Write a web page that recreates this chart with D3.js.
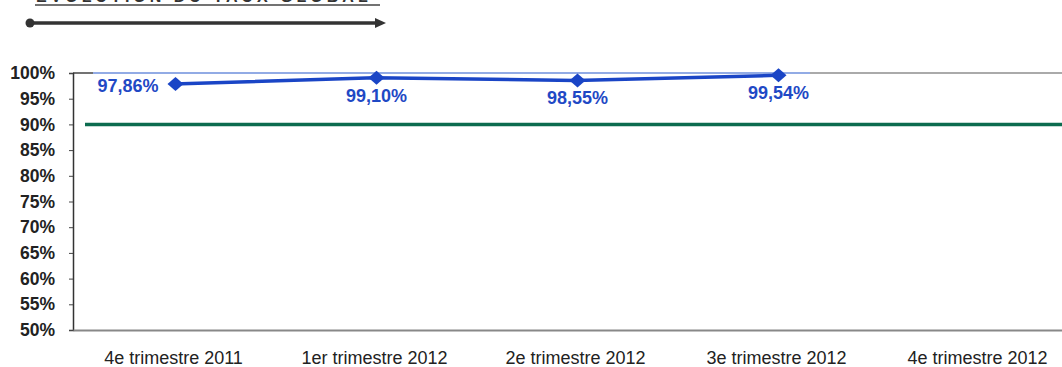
<!DOCTYPE html>
<html>
<head>
<meta charset="utf-8">
<script src="https://cdn.jsdelivr.net/npm/d3@7"></script>
<style>
  body { margin: 0; background: #fff; }
  svg { display: block; }
</style>
</head>
<body>
<div id="chart"></div>
<script>
(function(){

  var width = 1062, height = 367;

  // data
  var quarters = ["4e trimestre 2011", "1er trimestre 2012", "2e trimestre 2012", "3e trimestre 2012", "4e trimestre 2012"];
  var rates = [0.9786, 0.9910, 0.9855, 0.9954];
  var rateLabels = ["97,86%", "99,10%", "98,55%", "99,54%"];
  var target = 0.90;
  var yTicks = [0.50, 0.55, 0.60, 0.65, 0.70, 0.75, 0.80, 0.85, 0.90, 0.95, 1.00];

  var left = 73, top = 73, bottom = 330, right = 1078;

  var x = d3.scaleBand().domain(quarters).range([left, right]).padding(0);
  var y = d3.scaleLinear().domain([0.5, 1]).range([bottom, top]);
  var cx = function(d){ return x(d) + x.bandwidth() / 2; };

  var svg = d3.select("#chart").append("svg")
      .attr("width", width)
      .attr("height", height);

  // title (cut at top of page in the scan) + arrow
  svg.append("text")
      .attr("x", 36).attr("y", 2)
      .attr("font-family", "Liberation Sans, Arial, sans-serif")
      .attr("font-weight", "bold")
      .attr("font-size", 16)
      .attr("letter-spacing", 4)
      .attr("fill", "#333")
      .text("ÉVOLUTION DU TAUX GLOBAL");
  svg.append("line")
      .attr("x1", 35).attr("x2", 380).attr("y1", 5).attr("y2", 5)
      .attr("stroke", "#444").attr("stroke-width", 1.5);

  svg.append("line")
      .attr("x1", 29).attr("x2", 378).attr("y1", 23).attr("y2", 23)
      .attr("stroke", "#333").attr("stroke-width", 3.5);
  svg.append("circle")
      .attr("cx", 30).attr("cy", 23).attr("r", 4.5)
      .attr("fill", "#333");
  svg.append("path")
      .attr("d", "M375,18 L386,23 L375,28 Z")
      .attr("fill", "#333");

  // 100% line
  svg.append("line")
      .attr("x1", left).attr("x2", 93).attr("y1", y(1)).attr("y2", y(1))
      .attr("stroke", "#444").attr("stroke-width", 1.5);
  svg.append("line")
      .attr("x1", 93).attr("x2", 810).attr("y1", y(1)).attr("y2", y(1))
      .attr("stroke", "#6e8fdc").attr("stroke-width", 1.5);
  svg.append("line")
      .attr("x1", 810).attr("x2", width).attr("y1", y(1)).attr("y2", y(1))
      .attr("stroke", "#aaa").attr("stroke-width", 2);

  // target line
  svg.append("line")
      .attr("x1", 85).attr("x2", width).attr("y1", y(target)).attr("y2", y(target))
      .attr("stroke", "#0c6c4f").attr("stroke-width", 3.5);

  // y axis
  var yAxis = svg.append("g")
      .attr("transform", "translate(" + left + ",0)")
      .call(d3.axisLeft(y).tickValues(yTicks).tickFormat(d3.format(".0%")).tickSize(4).tickPadding(14));
  yAxis.select(".domain").attr("stroke", "#333").attr("stroke-width", 1.5);
  yAxis.selectAll(".tick line").attr("stroke", "#444");
  yAxis.selectAll(".tick text")
      .attr("font-family", "Liberation Sans, Arial, sans-serif")
      .attr("font-weight", "bold")
      .attr("font-size", 17.5)
      .attr("fill", "#222");

  // x axis
  var xAxis = svg.append("g")
      .attr("transform", "translate(0," + bottom + ")")
      .call(d3.axisBottom(x).tickSize(0).tickPadding(21));
  xAxis.select(".domain").attr("stroke", "#888").attr("stroke-width", 2);
  xAxis.selectAll(".tick text")
      .attr("font-family", "Liberation Sans, Arial, sans-serif")
      .attr("font-size", 18)
      .attr("fill", "#222");

  // series
  var pts = rates.map(function(v, i){ return {q: quarters[i], v: v, label: rateLabels[i]}; });

  svg.append("path")
      .datum(pts)
      .attr("fill", "none")
      .attr("stroke", "#1a45c6")
      .attr("stroke-width", 3.5)
      .attr("d", d3.line().x(function(d){ return cx(d.q); }).y(function(d){ return y(d.v); }));

  svg.selectAll(".marker")
      .data(pts)
    .enter().append("path")
      .attr("class", "marker")
      .attr("transform", function(d){ return "translate(" + (cx(d.q) + 2) + "," + y(d.v) + ")"; })
      .attr("d", "M-8,0 L0,-7 L8,0 L0,7 Z")
      .attr("fill", "#1a45c6");

  svg.selectAll(".lbl")
      .data(pts)
    .enter().append("text")
      .attr("class", "lbl")
      .attr("x", function(d, i){ return i === 0 ? cx(d.q) - 15 : cx(d.q) + 2; })
      .attr("y", function(d, i){ return i === 0 ? y(d.v) + 8 : y(d.v) + 24; })
      .attr("text-anchor", function(d, i){ return i === 0 ? "end" : "middle"; })
      .attr("font-family", "Liberation Sans, Arial, sans-serif")
      .attr("font-weight", "bold")
      .attr("font-size", 18)
      .attr("fill", "#1f49c5")
      .text(function(d){ return d.label; });

})();
</script>
</body>
</html>
